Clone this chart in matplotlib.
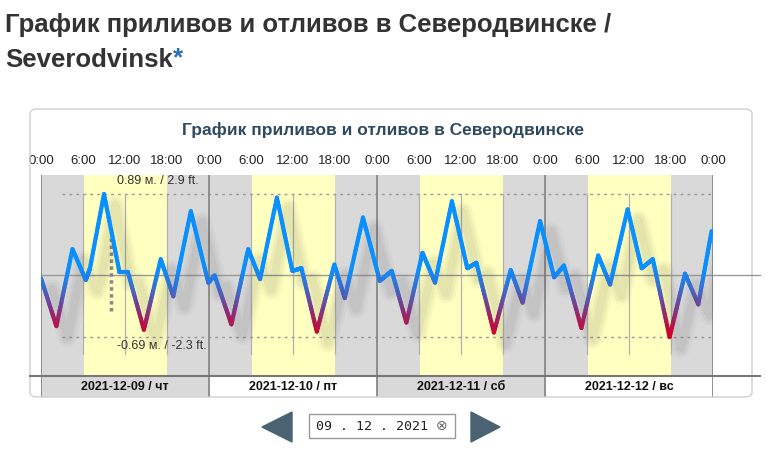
import numpy as np
import matplotlib
matplotlib.use("Agg")
import matplotlib.pyplot as plt
from matplotlib.collections import LineCollection
from matplotlib.colors import LinearSegmentedColormap
from matplotlib.patches import Rectangle, Polygon, FancyBboxPatch

# hours from 2021-12-09 0:00 and tide height (m)
hours = [0.0, 2.2, 4.5, 6.4, 7.0, 9.0, 11.2, 12.4, 14.7, 17.1, 18.9, 21.4, 23.9,
         24.8, 27.2, 29.6, 31.3, 33.7, 35.9, 37.2, 39.4, 41.9, 43.4, 46.0,
         48.4, 50.1, 52.2, 54.5, 56.3, 58.7, 60.9, 62.2, 64.7, 67.1, 68.8, 71.3,
         73.3, 74.7, 77.2, 79.6, 81.3, 83.8, 85.8, 87.4, 89.8, 92.0, 93.9, 95.8]
heights = [-0.04, -0.57, 0.28, -0.06, 0.07, 0.89, 0.03, 0.03, -0.61, 0.17, -0.24, 0.70, -0.09,
           -0.01, -0.55, 0.28, -0.05, 0.85, 0.04, 0.07, -0.63, 0.11, -0.26, 0.63,
           -0.07, 0.04, -0.53, 0.24, -0.09, 0.81, 0.07, 0.13, -0.64, 0.05, -0.31, 0.59,
           -0.03, 0.10, -0.59, 0.21, -0.11, 0.72, 0.07, 0.17, -0.69, 0.01, -0.33, 0.48]
day_labels = ["2021-12-09 / чт", "2021-12-10 / пт", "2021-12-11 / сб", "2021-12-12 / вс"]
tick_hours = [0, 6, 12, 18]
daylight = (6.1, 18.0)
max_label = "0.89 м. / 2.9 ft."
min_label = "-0.69 м. / -2.3 ft."
now_hour = 10.0

W, H = 781, 469
fig = plt.figure(figsize=(W / 100, H / 100), dpi=100)
plt.rcParams['font.family'] = ['Liberation Sans', 'DejaVu Sans']

def px(x0, y0, x1, y1):
    return [x0 / W, 1 - y1 / H, (x1 - x0) / W, (y1 - y0) / H]

# page title
fig.text(5 / W, 1 - 25 / H, "График приливов и отливов в Северодвинске /",
         fontsize=18.5, fontweight='bold', color='#333333', va='center')
t = fig.text(5 / W, 1 - 60 / H, "Severodvinsk", fontsize=18.5, fontweight='bold',
             color='#333333', va='center')
fig.canvas.draw()
bb = t.get_window_extent()
fig.text(bb.x1 / W, 1 - 58 / H, "*", fontsize=18.5, fontweight='bold', color='#2a6ebb', va='center')

# panel frame
fig.patches.append(FancyBboxPatch((30 / W, 1 - 397 / H), 722 / W, 288 / H,
                                  boxstyle="round,pad=0,rounding_size=0.01",
                                  transform=fig.transFigure, fill=False,
                                  edgecolor='#cfcfcf', linewidth=1))
fig.text(383 / W, 1 - 130 / H, "График приливов и отливов в Северодвинске",
         fontsize=12.5, fontweight='bold', color='#2f4a5f', ha='center', va='center')

ax = fig.add_axes(px(41, 175, 713, 375))
ax.set_xlim(0, 96)
ax.set_ylim(-1.11, 1.10)
ax.set_facecolor('#d9d9d9')
for d in range(4):
    ax.axvspan(24 * d + daylight[0], 24 * d + daylight[1], color='#ffffc0', lw=0, zorder=0)
    for h in (6, 12, 18):
        ax.plot([24 * d + h] * 2, [-0.88, 0.89], color='#b0b0b0', lw=0.9, zorder=1)
for d in range(5):
    ax.axvline(24 * d, color='#888888', lw=1.3, zorder=2)
ax.axhline(0, color='#999999', lw=1, zorder=1)
ax.hlines([max(heights), min(heights)], 3, 96, colors='#999999', linestyles=(0, (2, 3)), lw=1, zorder=1)
ax.plot([now_hour] * 2, [-0.4, 0.42], color='#888888', lw=2.5, ls=(0, (1, 1)), zorder=2)

x = np.array(hours)
y = np.array(heights)
# soft shadow
for w, a in [(14, 0.035), (10, 0.045), (6, 0.05)]:
    ax.plot(x + 1.6, y - 0.12, color='#303030', lw=w, alpha=a, solid_joinstyle='round',
            solid_capstyle='round', zorder=3)

# split each straight segment into short pieces so the colour gradient follows height
cmap = LinearSegmentedColormap.from_list('tide', ['#d4002a', '#8a2f7a', '#3f68c8', '#0a8fff', '#0a8fff'])
fx, fy = [], []
for i in range(len(x) - 1):
    s = np.linspace(0, 1, 20, endpoint=False)
    fx.extend(x[i] + (x[i + 1] - x[i]) * s)
    fy.extend(y[i] + (y[i + 1] - y[i]) * s)
fx.append(x[-1]); fy.append(y[-1])
fx, fy = np.array(fx), np.array(fy)
pts = np.column_stack([fx, fy]).reshape(-1, 1, 2)
segs = np.concatenate([pts[:-1], pts[1:]], axis=1)
lc = LineCollection(segs, cmap=cmap, norm=plt.Normalize(-0.65, 0.3), lw=3, zorder=4,
                    capstyle='round', joinstyle='round')
lc.set_array((fy[:-1] + fy[1:]) / 2)
ax.add_collection(lc)

ax.text(10.8, max(heights) + 0.08, max_label, fontsize=9, color='#333333', va='bottom', zorder=5)
ax.text(10.8, min(heights) - 0.1, min_label, fontsize=9, color='#333333', va='center', zorder=5)

ticks = [24 * d + h for d in range(4) for h in tick_hours] + [96]
ax.set_xticks(ticks)
ax.set_xticklabels([f"{h % 24}:00" for h in ticks], fontsize=9.5, color='#222222')
ax.xaxis.tick_top()
ax.tick_params(axis='x', length=0, pad=6)
ax.set_yticks([])
for s in ax.spines.values():
    s.set_visible(False)

# date band
dax = fig.add_axes(px(41, 375, 713, 397))
dax.set_xlim(0, 96)
dax.set_ylim(0, 1)
for d, lab in enumerate(day_labels):
    dax.add_patch(Rectangle((24 * d, 0), 24, 1, color='#d9d9d9' if d % 2 == 0 else 'white', lw=0))
    dax.text(24 * d + 12, 0.45, lab, ha='center', va='center', fontsize=9, fontweight='bold', color='#111111')
for d in range(5):
    dax.axvline(24 * d, color='#888888', lw=1.3)
dax.axis('off')
fig.add_artist(plt.Line2D([30 / W, 760 / W], [1 - 376 / H] * 2, color='#777777', lw=1.5))
fig.add_artist(plt.Line2D([713 / W, 760 / W], [1 - 274.5 / H] * 2, color='#999999', lw=1))

# date picker
fig.patches.append(Polygon([(262 / W, 1 - 427 / H), (292 / W, 1 - 412 / H), (292 / W, 1 - 442 / H)],
                           closed=True, transform=fig.transFigure, color='#4a6272'))
fig.patches.append(Polygon([(500 / W, 1 - 427 / H), (471 / W, 1 - 412 / H), (471 / W, 1 - 442 / H)],
                           closed=True, transform=fig.transFigure, color='#4a6272'))
fig.patches.append(Rectangle((309 / W, 1 - 438 / H), 146 / W, 24 / H, transform=fig.transFigure,
                             facecolor='white', edgecolor='#999999', lw=1))
fig.text(316 / W, 1 - 426 / H, "09 . 12 . 2021", fontsize=9.5, family='DejaVu Sans Mono',
         color='#222222', ha='left', va='center')
fig.text(442 / W, 1 - 426 / H, "⊗", fontsize=10, color='#666666', ha='center', va='center',
         family='DejaVu Sans')

fig.savefig("out.png", dpi=100)
